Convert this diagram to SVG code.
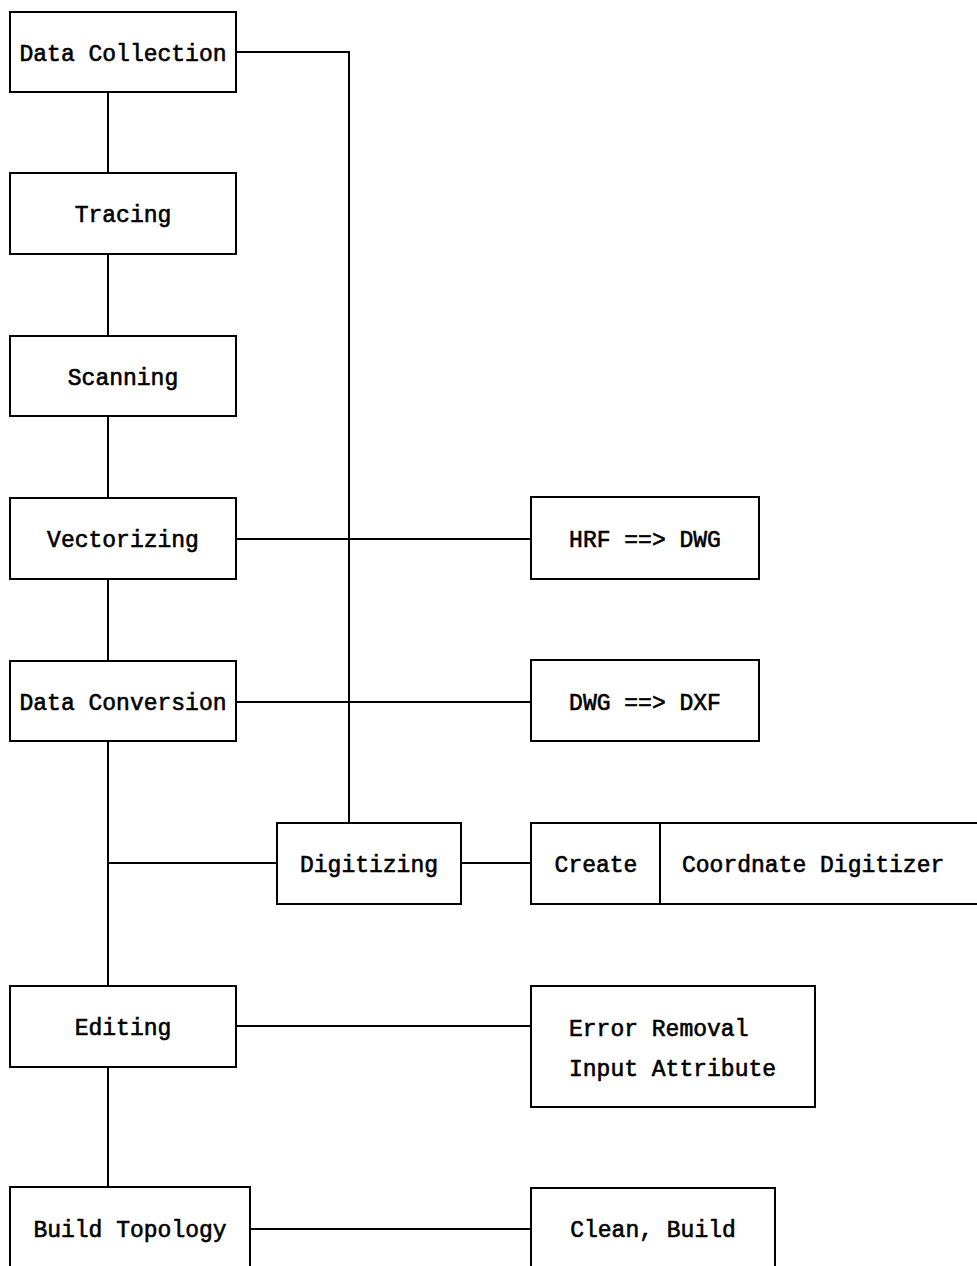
<svg xmlns="http://www.w3.org/2000/svg" width="977" height="1266" viewBox="0 0 977 1266">
<style>
.box{fill:#fff;stroke:#000;stroke-width:2}
.ln{fill:none;stroke:#000;stroke-width:2}
text{font-family:"Liberation Mono","DejaVu Sans Mono",monospace;font-size:23px;fill:#000;stroke:#000;stroke-width:0.6}
.c{text-anchor:middle}
</style>
<rect width="977" height="1266" fill="#fff"/>
<g id="connectors">
<path class="ln" d="M236 52H349V823"/>
<path class="ln" d="M108 92V173M108 254V336M108 416V498M108 579V661M108 741V986M108 863H277M108 1067V1187"/>
<path class="ln" d="M236 539H531M236 702H531M461 863H531M236 1026H531M250 1229H531"/>
</g>
<g id="n-datacollection"><rect class="box" x="10" y="12" width="226" height="80"/><text class="c" x="123" y="61">Data Collection</text></g>
<g id="n-tracing"><rect class="box" x="10" y="173" width="226" height="81"/><text class="c" x="123" y="222">Tracing</text></g>
<g id="n-scanning"><rect class="box" x="10" y="336" width="226" height="80"/><text class="c" x="123" y="385">Scanning</text></g>
<g id="n-vectorizing"><rect class="box" x="10" y="498" width="226" height="81"/><text class="c" x="123" y="547">Vectorizing</text></g>
<g id="n-dataconversion"><rect class="box" x="10" y="661" width="226" height="80"/><text class="c" x="123" y="710">Data Conversion</text></g>
<g id="n-digitizing"><rect class="box" x="277" y="823" width="184" height="81"/><text class="c" x="369" y="872">Digitizing</text></g>
<g id="n-editing"><rect class="box" x="10" y="986" width="226" height="81"/><text class="c" x="123" y="1035">Editing</text></g>
<g id="n-buildtopology"><rect class="box" x="10" y="1187" width="240" height="120"/><text class="c" x="130" y="1237">Build Topology</text></g>
<g id="n-hrf"><rect class="box" x="531" y="497" width="228" height="82"/><text class="c" x="645" y="547">HRF ==&gt; DWG</text></g>
<g id="n-dwg"><rect class="box" x="531" y="660" width="228" height="81"/><text class="c" x="645" y="710">DWG ==&gt; DXF</text></g>
<g id="n-create"><rect class="box" x="531" y="823" width="460" height="81"/><path class="ln" d="M660 823V904"/><text class="c" x="596" y="872">Create</text><text x="682" y="872">Coordnate Digitizer</text></g>
<g id="n-error"><rect class="box" x="531" y="986" width="284" height="121"/><text x="569" y="1036">Error Removal</text><text x="569" y="1076">Input Attribute</text></g>
<g id="n-clean"><rect class="box" x="531" y="1188" width="244" height="120"/><text class="c" x="653" y="1237">Clean, Build</text></g>
</svg>
